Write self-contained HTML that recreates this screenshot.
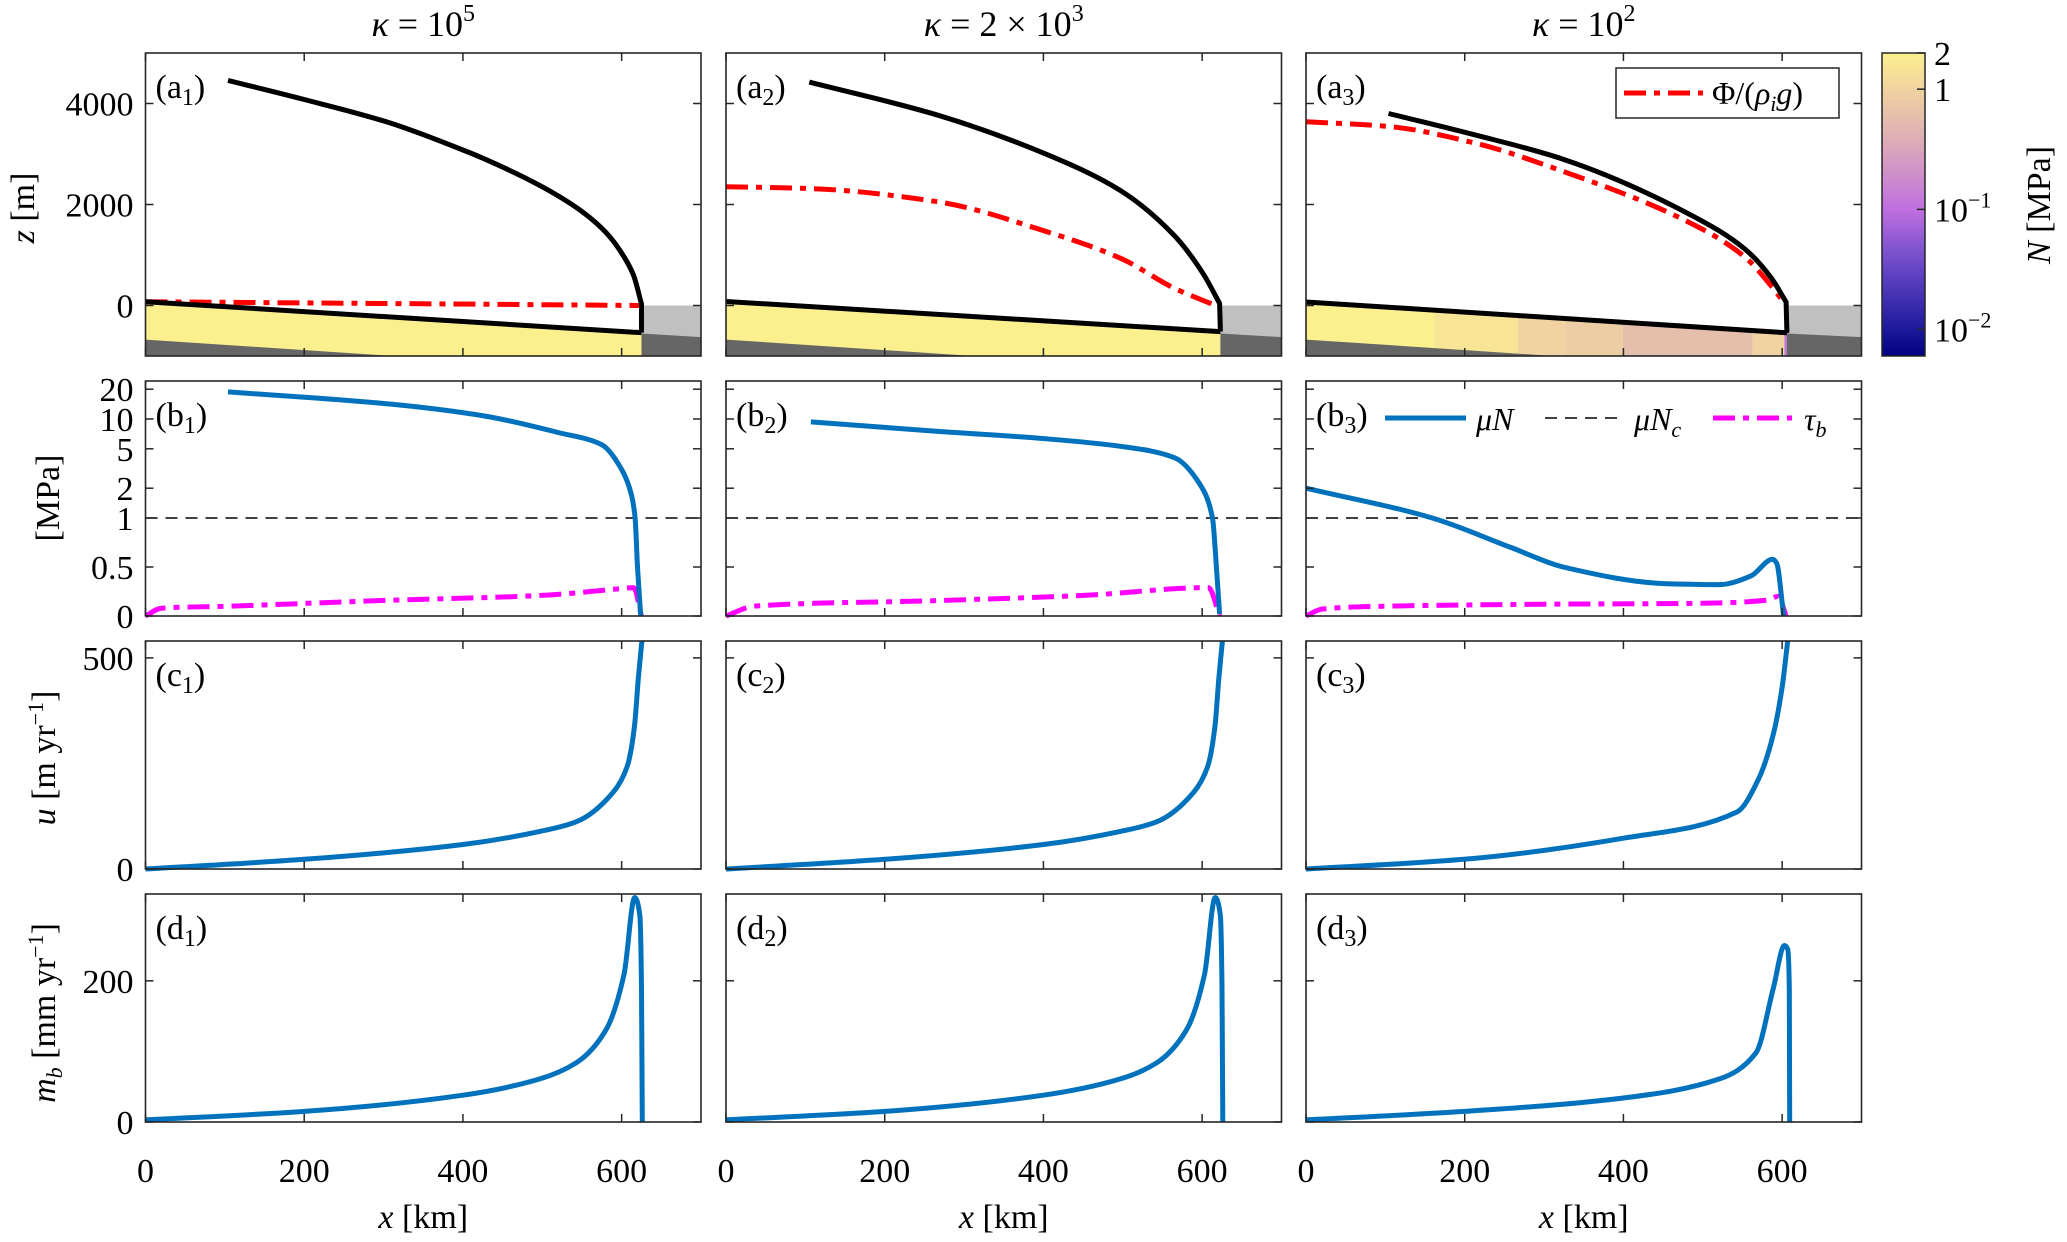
<!DOCTYPE html>
<html><head><meta charset="utf-8"><style>
html,body{margin:0;padding:0;background:#fff;}
svg{display:block;font-family:"Liberation Serif","DejaVu Serif",serif;}
</style></head><body>
<svg id="fig" width="2067" height="1242" viewBox="0 0 2067 1242" xmlns="http://www.w3.org/2000/svg">
<defs>
<linearGradient id="cbgrad" x1="0" y1="1" x2="0" y2="0">
<stop offset="0" stop-color="#00007f"/><stop offset="0.088" stop-color="#1c1a9c"/>
<stop offset="0.3" stop-color="#6a48c8"/><stop offset="0.4855" stop-color="#c070e0"/>
<stop offset="0.7" stop-color="#dcaab8"/><stop offset="0.88" stop-color="#f0d3a0"/>
<stop offset="1" stop-color="#fcf08e"/>
</linearGradient>
</defs>
<g id="content"></g>
</svg>
<script>
// ---- data ----
const colKappaBase = ["10", "2 × 10", "10"];
const colKappaExp = ["5", "3", "2"];
const xTicks = [0, 200, 400, 600];
const zTicks = [0, 2000, 4000];
const stressTicks = [0, 0.5, 1, 2, 5, 10, 20];
const uTicks = [0, 500];
const mTicks = [0, 200];
const termX = [625, 623, 606];
// ice surface
const surfX1 = [104, 200, 306, 400, 428, 500, 551, 580, 600, 615, 625];
const surfZ1 = [4457, 4080, 3626, 3080, 2897, 2350, 1850, 1450, 1040, 600, 30];
const surfX2 = [105, 267, 405, 497, 565, 601, 622];
const surfZ2 = [4424, 3768, 2986, 2277, 1384, 638, 42];
const surfX3 = [104, 212, 324, 488, 553, 586, 605];
const surfZ3 = [3802, 3382, 2897, 1766, 1119, 552, 69];
// bed
const bedZ0 = [75, 80, 70];
const bedZT = [-538, -517, -540];
// hydraulic potential Φ/(ρi g)
const phiX1 = [0, 300, 625];
const phiZ1 = [75, 40, 0];
const phiX2 = [0, 107, 267, 405, 497, 565, 616];
const phiZ2 = [2352, 2315, 2053, 1457, 937, 341, 6];
const phiX3 = [0, 104, 212, 324, 488, 553, 586, 605];
const phiZ3 = [3640, 3545, 3220, 2655, 1604, 960, 392, 0];
// effective pressure segments (x start, x end, N MPa)
const nSegX1 = [0, 625];
const nSegN1 = [2];
const nSegX2 = [0, 623];
const nSegN2 = [2];
const nSegX3 = [0, 162, 267, 326, 399, 563, 603, 606];
const nSegN3 = [2, 1.5, 1.0, 0.85, 0.6, 1.0, 0.1];
// μN
const muX1 = [104, 306, 428, 520, 575, 600, 612, 617, 620, 624];
const muV1 = [18.8, 14.2, 10.7, 7.3, 5.5, 3.1, 1.75, 1.0, 0.5, 0];
const muX2 = [107, 267, 405, 497, 565, 597, 613, 618, 622];
const muV2 = [9.35, 7.5, 6.3, 5.3, 4.07, 2.2, 1.0, 0.5, 0.02];
const muX3 = [0, 159, 258, 324, 455, 521, 561, 588, 593, 602];
const muV3 = [2.0, 1.0, 0.70, 0.5, 0.33, 0.32, 0.41, 0.58, 0.54, 0];
// τb
const tauX1 = [0, 20, 104, 306, 500, 600, 615, 625];
const tauV1 = [0, 0.08, 0.10, 0.16, 0.21, 0.28, 0.29, 0];
const tauX2 = [0, 35, 267, 451, 608, 622];
const tauV2 = [0, 0.1, 0.157, 0.21, 0.29, 0];
const tauX3 = [0, 20, 100, 300, 500, 580, 595, 605];
const tauV3 = [0, 0.07, 0.1, 0.12, 0.13, 0.16, 0.2, 0];
// velocity u
const uX1 = [0, 200, 400, 497, 543, 589, 607, 616, 621, 625.5];
const uV1 = [0, 23, 58, 89, 112, 181, 243, 335, 451, 540];
const uX3 = [0, 199, 400, 543, 570, 589, 600, 607];
const uV3 = [0, 23, 73, 135, 212, 320, 430, 540];
// melt mb
const mX1 = [0, 200, 400, 497, 543, 580, 603, 616.5, 623, 625, 626];
const mV1 = [3, 15, 38, 61, 84, 130, 209, 318, 292, 190, 0];
const mX3 = [0, 199, 400, 521, 567, 589, 603, 607, 609, 609.5];
const mV3 = [3, 15, 34, 61, 98, 190, 250, 245, 190, 0];
const cbTickVals = [2, 1, 0.1, 0.01];

// ---- layout ----
const NS = "http://www.w3.org/2000/svg";
const root = document.getElementById("content");
const X0 = [145.5, 726, 1306], W = 555.5;
const xs = (c, km) => X0[c] + km / 700 * W;
const rows = {a: [53, 356], b: [381, 616], c: [641, 869], d: [894, 1122]};
const yA = z => 356 - (z + 1000) / 6000 * 303;
const yB = v => v <= 1 ? 616 - 98 * v : 518 - 99 * Math.log10(v);
const yC = u => 869 - u / 540 * 228;
const yD = m => 1122 - m / 323 * 228;

function el(tag, attrs, parent) {
  const e = document.createElementNS(NS, tag);
  for (const k in attrs) e.setAttribute(k, attrs[k]);
  (parent || root).appendChild(e);
  return e;
}
const stops = [[0,[0,0,127]],[0.088,[28,26,156]],[0.3,[106,72,200]],[0.4855,[192,112,224]],[0.7,[220,170,184]],[0.88,[240,211,160]],[1,[252,240,142]]];
function cmap(N) {
  let t = (Math.log10(N) + 2.22) / (2.22 + Math.log10(2));
  t = Math.max(0, Math.min(1, t));
  for (let i = 1; i < stops.length; i++) {
    if (t <= stops[i][0]) {
      const a = stops[i-1], b = stops[i], f = (t - a[0]) / (b[0] - a[0]);
      const c = a[1].map((v, j) => Math.round(v + (b[1][j] - v) * f));
      return `rgb(${c[0]},${c[1]},${c[2]})`;
    }
  }
  return "rgb(252,240,142)";
}
// monotone cubic (Fritsch-Carlson) path through pixel points
function poly(c, xsArr, vals, yf) {
  const P = xsArr.map((x, i) => [xs(c, x), yf(vals[i])]);
  const n = P.length;
  if (n < 3) return P.map((p, i) => `${i ? "L" : "M"}${p[0].toFixed(1)},${p[1].toFixed(1)}`).join(" ");
  const d = [], m = new Array(n);
  for (let i = 0; i < n - 1; i++) d.push((P[i+1][1] - P[i][1]) / (P[i+1][0] - P[i][0]));
  m[0] = d[0]; m[n-1] = d[n-2];
  for (let i = 1; i < n - 1; i++) {
    if (d[i-1] * d[i] <= 0) m[i] = 0;
    else {
      const h0 = P[i][0] - P[i-1][0], h1 = P[i+1][0] - P[i][0];
      const w1 = 2 * h1 + h0, w2 = h1 + 2 * h0;
      m[i] = (w1 + w2) / (w1 / d[i-1] + w2 / d[i]);
    }
  }
  let s = `M${P[0][0].toFixed(1)},${P[0][1].toFixed(1)}`;
  for (let i = 0; i < n - 1; i++) {
    const h = P[i+1][0] - P[i][0];
    const c1x = P[i][0] + h / 3, c1y = P[i][1] + m[i] * h / 3;
    const c2x = P[i+1][0] - h / 3, c2y = P[i+1][1] - m[i+1] * h / 3;
    s += ` C${c1x.toFixed(1)},${c1y.toFixed(1)} ${c2x.toFixed(1)},${c2y.toFixed(1)} ${P[i+1][0].toFixed(1)},${P[i+1][1].toFixed(1)}`;
  }
  return s;
}
function text(str, x, y, size, anchor, parent) {
  const t = el("text", {x: x, y: y, "font-size": size, "text-anchor": anchor || "start", fill: "#000"}, parent);
  t.textContent = str;
  return t;
}
function panelLabel(letter, num, c, r) {
  const t = el("text", {x: X0[c] + 10, y: rows[r][0] + 45, "font-size": 34, fill: "#000"});
  
  
  const a = el("tspan", {}, t); a.textContent = "(" + letter;
  const s = el("tspan", {"font-size": 24, dy: 7}, t); s.textContent = num;
  const p = el("tspan", {dy: -7}, t); p.textContent = ")";
}

// titles
for (let c = 0; c < 3; c++) {
  const t = el("text", {x: X0[c] + W / 2, y: 36, "font-size": 36, "text-anchor": "middle"});
  
  
  const a = el("tspan", {"font-style": "italic"}, t); a.textContent = "κ";
  const b = el("tspan", {}, t); b.textContent = " = " + colKappaBase[c];
  const e = el("tspan", {"font-size": 24, dy: -15}, t); e.textContent = colKappaExp[c];
}

function axesBox(c, r, yTicks, yf) {
  const [top, bot] = rows[r];
  const g = el("g", {});
  
  
  el("rect", {x: X0[c], y: top, width: W, height: bot - top, fill: "none", stroke: "#262626", "stroke-width": 1.6}, g);
  for (const xt of xTicks) {
    const x = xs(c, xt);
    el("line", {x1: x, y1: top, x2: x, y2: top + 8, stroke: "#262626", "stroke-width": 1.5}, g);
    el("line", {x1: x, y1: bot, x2: x, y2: bot - 8, stroke: "#262626", "stroke-width": 1.5}, g);
    if (r === "d") {
      const t = text(String(xt), x, 1182, 34, "middle", g);
      
      
    }
  }
  for (const yt of yTicks) {
    const y = yf(yt);
    el("line", {x1: X0[c], y1: y, x2: X0[c] + 8, y2: y, stroke: "#262626", "stroke-width": 1.5}, g);
    el("line", {x1: X0[c] + W, y1: y, x2: X0[c] + W - 8, y2: y, stroke: "#262626", "stroke-width": 1.5}, g);
    if (c === 0) {
      const t = text(String(yt), X0[0] - 12, y + 12, 34, "end", g);
      
      
    }
  }
}

function line(c, d, color, w, dash, name) {
  const p = el("path", {d: d, fill: "none", stroke: color, "stroke-width": w, "stroke-linejoin": "round"});
  if (dash) p.setAttribute("stroke-dasharray", dash);
  
  
  return p;
}

// ---- row a ----
const surfXs = [surfX1, surfX2, surfX3], surfZs = [surfZ1, surfZ2, surfZ3];
const phiXs = [phiX1, phiX2, phiX3], phiZs = [phiZ1, phiZ2, phiZ3];
const nSegXs = [nSegX1, nSegX2, nSegX3], nSegNs = [nSegN1, nSegN2, nSegN3];
for (let c = 0; c < 3; c++) {
  const T = termX[c];
  const bedAt = x => bedZ0[c] + (bedZT[c] - bedZ0[c]) * x / T;
  for (let i = 0; i < nSegNs[c].length; i++) {
    const x1 = nSegXs[c][i], x2 = nSegXs[c][i + 1];
    const d = `M${xs(c,x1)},${yA(bedAt(x1))} L${xs(c,x2)},${yA(bedAt(x2))} L${xs(c,x2)},356 L${xs(c,x1)},356 Z`;
    const p = el("path", {d: d, fill: cmap(nSegNs[c][i])});
    
    
  }
  const dk = el("path", {d: `M${xs(c,0)},${yA(-675)} L${xs(c,312)},356 L${xs(c,0)},356 Z`, fill: "#666"});
  
  
  const lg = el("rect", {x: xs(c, T), y: yA(0), width: xs(c,700) - xs(c,T), height: 356 - yA(0), fill: "#c0c0c0"});
  
  
  const dr = el("path", {d: `M${xs(c,T)},${yA(-555)} L${xs(c,700)},${yA(-625)} L${xs(c,700)},356 L${xs(c,T)},356 Z`, fill: "#666"});
  
  
  line(c, poly(c, phiXs[c], phiZs[c], yA), "#ff0000", 5, "22 8 6 8", "hydraulic-potential-line");
  line(c, `M${xs(c,0)},${yA(bedZ0[c])} L${xs(c,T)},${yA(bedZT[c])}`, "#000", 5, null, "bed-line");
  const sd = poly(c, surfXs[c], surfZs[c], yA) + ` L${xs(c,T)},${yA(bedZT[c])}`;
  line(c, sd, "#000", 5, null, "ice-surface-line");
  axesBox(c, "a", zTicks, yA);
  panelLabel("a", c + 1, c, "a");
}

// ---- row b ----
const muXs = [muX1, muX2, muX3], muVs = [muV1, muV2, muV3];
const tauXs = [tauX1, tauX2, tauX3], tauVs = [tauV1, tauV2, tauV3];
for (let c = 0; c < 3; c++) {
  line(c, `M${xs(c,0)},${yB(1)} L${xs(c,700)},${yB(1)}`, "#000", 1.6, "12 8", "critical-stress-line");
  line(c, poly(c, tauXs[c], tauVs[c], yB), "#ff00ff", 5, "22 8 6 8", "basal-shear-line");
  line(c, poly(c, muXs[c], muVs[c], yB), "#0072bd", 5, null, "friction-line");
  axesBox(c, "b", stressTicks, yB);
  panelLabel("b", c + 1, c, "b");
}
// ---- row c ----
const uXs = [uX1, uX1, uX3], uVs = [uV1, uV1, uV3];
for (let c = 0; c < 3; c++) {
  line(c, poly(c, uXs[c], uVs[c], yC), "#0072bd", 5, null, "velocity-line");
  axesBox(c, "c", uTicks, yC);
  panelLabel("c", c + 1, c, "c");
}
// ---- row d ----
const mXs = [mX1, mX1, mX3], mVs = [mV1, mV1, mV3];
for (let c = 0; c < 3; c++) {
  line(c, poly(c, mXs[c], mVs[c], yD), "#0072bd", 5, null, "melt-rate-line");
  axesBox(c, "d", mTicks, yD);
  panelLabel("d", c + 1, c, "d");
}

// ---- x axis labels ----
for (let c = 0; c < 3; c++) {
  const t = el("text", {x: X0[c] + W / 2, y: 1228, "font-size": 34, "text-anchor": "middle"});
  
  
  const a = el("tspan", {"font-style": "italic"}, t); a.textContent = "x";
  const b = el("tspan", {}, t); b.textContent = " [km]";
}
// ---- y axis labels ----
function yLabel(parts, x, y, name) {
  const t = el("text", {x: 0, y: 0, "font-size": 34, "text-anchor": "middle", transform: `translate(${x},${y}) rotate(-90)`});
  
  
  for (const p of parts) {
    const s = el("tspan", p.a || {}, t); s.textContent = p.t;
  }
}
yLabel([{t: "z", a: {"font-style": "italic"}}, {t: " [m]"}], 34, 208, "y-axis-title-z");
yLabel([{t: "[MPa]"}], 59, 498, "y-axis-title-stress");
yLabel([{t: "u", a: {"font-style": "italic"}}, {t: " [m yr"}, {t: "−1", a: {"font-size": 22, dy: -12}}, {t: "]", a: {dy: 12}}], 55, 758, "y-axis-title-u");
yLabel([{t: "m", a: {"font-style": "italic"}}, {t: "b", a: {"font-style": "italic", "font-size": 22, dy: 7}}, {t: " [mm yr", a: {dy: -7}}, {t: "−1", a: {"font-size": 22, dy: -12}}, {t: "]", a: {dy: 12}}], 55, 1013, "y-axis-title-mb");

// ---- legend a3 ----
const lg = el("g", {});


el("rect", {x: 1616, y: 68, width: 223, height: 50, fill: "#fff", stroke: "#262626", "stroke-width": 1.5}, lg);
el("line", {x1: 1624, y1: 93, x2: 1703, y2: 93, stroke: "#f00", "stroke-width": 5, "stroke-dasharray": "22 8 6 8"}, lg);
const lt = el("text", {x: 1712, y: 104, "font-size": 32}, lg);
[["Φ/(", {}], ["ρ", {"font-style": "italic"}], ["i", {"font-style": "italic", "font-size": 22, dy: 7}], ["g", {"font-style": "italic", dy: -7}], [")", {}]].forEach(([s, a]) => { const sp = el("tspan", a, lt); sp.textContent = s; });

// ---- legend b3 ----
const lb = el("g", {});


el("line", {x1: 1385, y1: 418, x2: 1466, y2: 418, stroke: "#0072bd", "stroke-width": 5}, lb);
const t1 = el("text", {x: 1476, y: 430, "font-size": 32, "font-style": "italic"}, lb); t1.textContent = "μN";
el("line", {x1: 1545, y1: 418, x2: 1622, y2: 418, stroke: "#000", "stroke-width": 1.6, "stroke-dasharray": "12 8"}, lb);
const t2 = el("text", {x: 1634, y: 430, "font-size": 32, "font-style": "italic"}, lb);
const t2a = el("tspan", {}, t2); t2a.textContent = "μN";
const t2b = el("tspan", {"font-size": 22, dy: 7}, t2); t2b.textContent = "c";
el("line", {x1: 1713, y1: 418, x2: 1792, y2: 418, stroke: "#f0f", "stroke-width": 5, "stroke-dasharray": "22 8 6 8"}, lb);
const t3 = el("text", {x: 1804, y: 430, "font-size": 32, "font-style": "italic"}, lb);
const t3a = el("tspan", {}, t3); t3a.textContent = "τ";
const t3b = el("tspan", {"font-size": 22, dy: 7}, t3); t3b.textContent = "b";

// ---- colorbar ----
const cb = el("g", {});


el("rect", {x: 1882, y: 53, width: 43, height: 303, fill: "url(#cbgrad)", stroke: "#262626", "stroke-width": 1.5}, cb);
const yCb = N => 356 - (Math.log10(N) + 2.22) / (2.22 + Math.log10(2)) * 303;
for (const v of cbTickVals) {
  const y = yCb(v);
  el("line", {x1: 1917, y1: y, x2: 1925, y2: y, stroke: "#262626", "stroke-width": 1.5}, cb);
  const t = el("text", {x: 1934, y: y + 12, "font-size": 34}, cb);
  
  
  if (v >= 1) { t.textContent = String(v); }
  else {
    const a = el("tspan", {}, t); a.textContent = "10";
    const b = el("tspan", {"font-size": 22, dy: -14}, t); b.textContent = "−" + Math.round(-Math.log10(v));
  }
}
yLabel([{t: "N", a: {"font-style": "italic"}}, {t: " [MPa]"}], 2050, 205, "colorbar-title");
</script>
</body></html>
